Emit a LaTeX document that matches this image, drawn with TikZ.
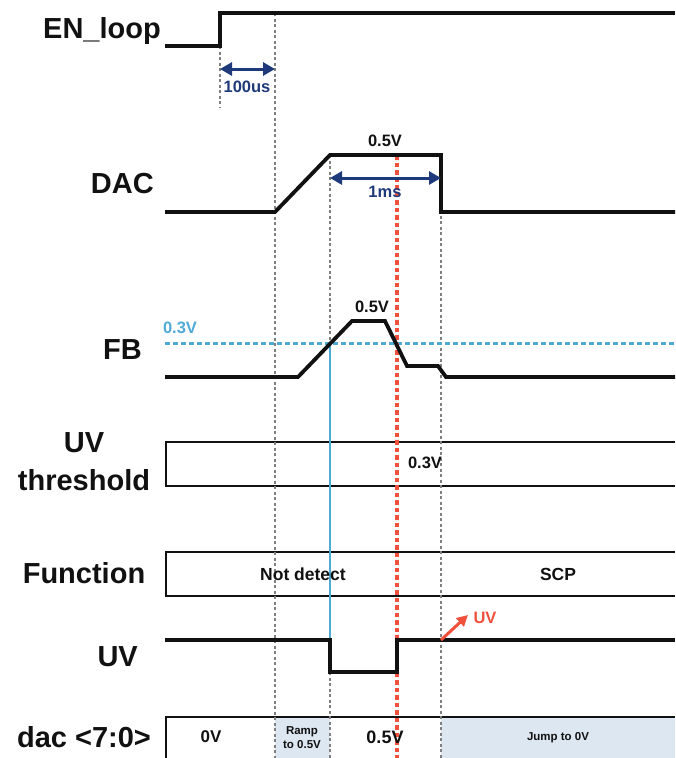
\documentclass[tikz,border=0pt]{standalone}
\usepackage{fontspec}
\setmainfont{Liberation Sans}
\usetikzlibrary{arrows.meta}
\definecolor{navy}{HTML}{1F3A7A}
\definecolor{fbblue}{HTML}{4FAAD6}
\definecolor{uvred}{HTML}{F0503C}
\definecolor{dacfill}{HTML}{DDE7F1}
\definecolor{txt}{HTML}{111111}
\definecolor{guidegray}{HTML}{7F7F7F}
\begin{document}
\begin{tikzpicture}[x=1pt,y=-1pt,
  sig/.style={line width=3.8pt,txt,line join=miter},
  boxline/.style={line width=2.2pt,txt},
  guide/.style={line width=2.6pt,guidegray,dash pattern=on 3pt off 2.5pt},
  redguide/.style={line width=3.2pt,uvred,dash pattern=on 4.5pt off 3pt},
  lbl/.style={font=\bfseries\fontsize{29}{32}\selectfont,text=txt,inner sep=0pt},
  val/.style={font=\bfseries\fontsize{16.5}{18}\selectfont,text=txt,inner sep=0pt},
  small/.style={font=\bfseries\fontsize{11.5}{14}\selectfont,text=txt,inner sep=0pt,align=center},
  dim/.style={line width=3pt,navy,{Triangle[length=12pt,width=13pt]}-{Triangle[length=12pt,width=13pt]}}
]
\useasboundingbox (0,0) rectangle (675,758);
% shaded regions of dac
\fill[dacfill] (275,717) rectangle (330,758);
\fill[dacfill] (441,717) rectangle (675,758);
% boxes
\draw[boxline] (675,442) -- (166,442) -- (166,486) -- (675,486);
\draw[boxline] (675,552) -- (166,552) -- (166,596) -- (675,596);
\draw[boxline] (675,717) -- (166,717) -- (166,758);
% guides
\coordinate (g1t) at (220,46); \coordinate (g1b) at (220,108);
\coordinate (g2t) at (275,13); \coordinate (g2b) at (275,758);
\coordinate (g3t) at (330,155); \coordinate (g3b) at (330,758);
\coordinate (g4t) at (441,155); \coordinate (g4b) at (441,758);
\coordinate (rt) at (397,155); \coordinate (rb) at (397,758);
\draw[guide] (g1t) -- (g1b);
\draw[guide] (g2t) -- (g2b);
\draw[guide] (g3t) -- (g3b);
\draw[guide] (g4t) -- (g4b);
% FB threshold line
\draw[fbblue,line width=3pt,dash pattern=on 5pt off 3pt] (165,343) -- (675,343);
\draw[fbblue,line width=2.8pt] (330,343) -- (330,672);
\draw[redguide] (rt) -- (rb);
% signals
\draw[sig] (165,46) -- (220,46) -- (220,13) -- (675,13);
\draw[sig] (165,212) -- (275,212) -- (330,155) -- (441,155) -- (441,212) -- (675,212);
\draw[sig] (165,377) -- (298,377) -- (352,321) -- (385,321) -- (407,366) -- (438,366) -- (446,377) -- (675,377);
\draw[sig] (165,640) -- (330,640) -- (330,672) -- (397,672) -- (397,640) -- (675,640);
% dimension arrows
\coordinate (a1l) at (220,69); \coordinate (a1r) at (275,69);
\draw[dim] (a1l) -- (a1r);
\node[val,text=navy] (t100) at (247,87) {100us};
\coordinate (a2l) at (330,178); \coordinate (a2r) at (441,178);
\draw[dim] (a2l) -- (a2r);
\node[val,text=navy] (t1ms) at (385,192) {1ms};
% UV arrow
\coordinate (uvs) at (441,640); \coordinate (uve) at (468,615);
\draw[uvred,line width=3pt,-{Triangle[length=11pt,width=11pt]}] (uvs) -- (uve);
\node[val,text=uvred] (tuv) at (485,618) {UV};
% left labels
\node[lbl,anchor=east] (lEN) at (161,31) {EN\_loop};
\node[lbl,anchor=east] (lDAC) at (154,184) {DAC};
\node[lbl,anchor=east] (lFB) at (142,350) {FB};
\node[lbl] (lUV1) at (84,443) {UV};
\node[lbl] (lUV2) at (84,480) {threshold};
\node[lbl] (lFun) at (84,573) {Function};
\node[lbl,anchor=east] (lUV) at (138,657) {UV};
\node[lbl] (ldac) at (84,737) {dac <7:0>};
% values
\node[val] (v05a) at (385,141) {0.5V};
\node[val] (v05b) at (372,307) {0.5V};
\node[val,text=fbblue] (v03) at (180,328) {0.3V};
\node[val] (v03t) at (425,463) {0.3V};
\node[val,font=\bfseries\fontsize{17.5}{19}\selectfont] (nd) at (303,574) {Not detect};
\node[val,font=\bfseries\fontsize{17.5}{19}\selectfont] (scp) at (558,574) {SCP};
\node[val,font=\bfseries\fontsize{17}{19}\selectfont] (d0) at (211,737) {0V};
\node[small] (dr) at (302,738) {Ramp\\to 0.5V};
\node[val,font=\bfseries\fontsize{18}{20}\selectfont] (d05) at (385,737) {0.5V};
\node[small] (dj) at (558,738) {Jump to 0V};
\end{tikzpicture}
\end{document}
